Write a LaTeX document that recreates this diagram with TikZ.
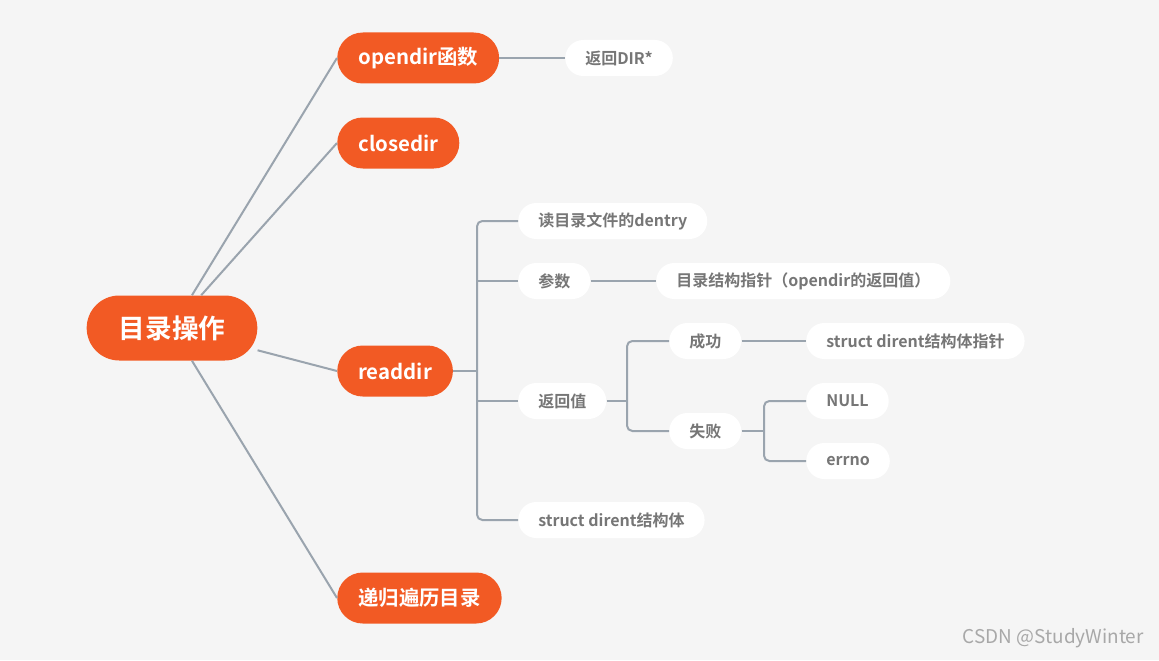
\documentclass[tikz,border=0pt]{standalone}
\usepackage{fontspec}
\newfontfamily\cjk{Noto Sans CJK SC}[BoldFont={Noto Sans CJK SC Bold}]
\definecolor{bg}{HTML}{F5F5F5}
\definecolor{orn}{HTML}{F25A24}
\definecolor{ln}{HTML}{9AA4AE}
\definecolor{txt}{HTML}{767676}
\definecolor{wm}{HTML}{A8A8A8}
\begin{document}
\begin{tikzpicture}[x=0.75pt,y=-0.75pt,
 rootbox/.style={fill=orn, text=white, font=\cjk\bfseries\fontsize{20}{24}\selectfont, minimum height=48.75pt, inner xsep=24pt, inner ysep=0pt, rounded corners=24.375pt},
 mainbox/.style={fill=orn, text=white, font=\cjk\bfseries\fontsize{15.3}{18}\selectfont, minimum height=38.25pt, inner xsep=15.75pt, inner ysep=0pt, rounded corners=19.125pt, anchor=west},
 leafbox/.style={fill=white, text=txt, font=\cjk\bfseries\fontsize{12}{14}\selectfont, minimum height=27pt, inner xsep=15pt, inner ysep=0pt, rounded corners=13.5pt, anchor=west},
 conn/.style={draw=ln, line width=1.5pt, rounded corners=4pt}]
\fill[bg] (0,0) rectangle (1159,660);
\node[rootbox] (root) at (172,328) {目录操作};
\node[mainbox] (opendir) at (337,58) {opendir函数};
\node[mainbox] (closedir) at (337,143) {closedir};
\node[mainbox] (readdir) at (337,371) {readdir};
\node[mainbox] (recur) at (337,598) {递归遍历目录};
\node[leafbox] (dir) at (565,58) {返回DIR*};
\node[leafbox] (dentry) at (518,221) {读目录文件的dentry};
\node[leafbox] (param) at (518,281) {参数};
\node[leafbox] (ptr) at (656,281) {目录结构指针（opendir的返回值）};
\node[leafbox] (ret) at (518,401) {返回值};
\node[leafbox] (ok) at (669,341) {成功};
\node[leafbox] (sdp) at (806,341) {struct dirent结构体指针};
\node[leafbox] (fail) at (669,431) {失败};
\node[leafbox] (null) at (806,401) {NULL};
\node[leafbox] (errno) at (806,461) {errno};
\node[leafbox] (sd) at (518,520) {struct dirent结构体};
\coordinate (rj) at (477,371);
\coordinate (vj) at (627,401);
\coordinate (fj) at (764,431);
\draw[conn] (root) -- (opendir.west);
\draw[conn] (root) -- (closedir.west);
\draw[conn] (root) -- (readdir.west);
\draw[conn] (root) -- (recur.west);
\draw[conn] (opendir) -- (dir);
\draw[conn] (readdir.east) -- (rj);
\draw[conn] (dentry.west) -| (rj) |- (sd.west);
\draw[conn] (param.west) -- (param.west -| rj);
\draw[conn] (ret.west) -- (ret.west -| rj);
\draw[conn] (param) -- (ptr);
\draw[conn] (ret.east) -- (vj);
\draw[conn] (ok.west) -| (vj) |- (fail.west);
\draw[conn] (ok) -- (sdp);
\draw[conn] (fail.east) -- (fj);
\draw[conn] (null.west) -| (fj) |- (errno.west);
\node[anchor=east, text=wm, font=\cjk\fontsize{14.2}{17}\selectfont, inner sep=0pt] (wm) at (1144,638) {CSDN @StudyWinter};
\end{tikzpicture}
\end{document}
